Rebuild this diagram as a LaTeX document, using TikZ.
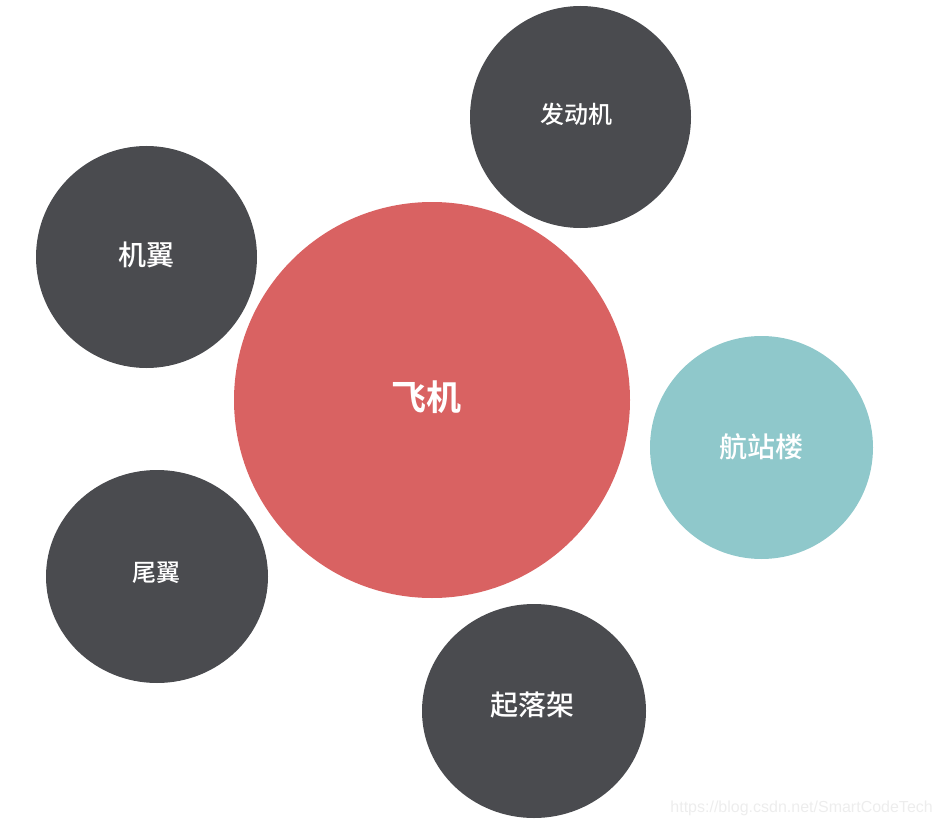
\documentclass[tikz,border=0pt]{standalone}
\usepackage{fontspec}
\usetikzlibrary{shapes.geometric}
\newfontfamily\cjkm{Noto Sans CJK SC Medium}
\newfontfamily\cjkb{Noto Sans CJK SC Bold}
\setmainfont{Liberation Sans}
\definecolor{hubred}{HTML}{D96262}
\definecolor{darkgray}{HTML}{4A4B4F}
\definecolor{teal2}{HTML}{8FC8CB}
\definecolor{wm}{HTML}{EDEDED}
\tikzset{
  bubble/.style={ellipse, inner sep=0pt},
  darkbubble/.style={bubble, fill=darkgray},
  bubbletext/.style={text=white, inner sep=0pt},
}
\begin{document}
\begin{tikzpicture}[x=1pt,y=-1pt]
\useasboundingbox (0,0) rectangle (940,824);
\node[bubble, fill=hubred, minimum width=396pt, minimum height=396pt] (hub) at (432,400) {};
\node[darkbubble, minimum width=221pt, minimum height=222pt] (engine) at (580.5,117) {};
\node[darkbubble, minimum width=221pt, minimum height=222pt] (wing) at (146.5,257) {};
\node[bubble, fill=teal2, minimum width=223pt, minimum height=223pt] (terminal) at (761.5,447.5) {};
\node[darkbubble, minimum width=222pt, minimum height=213pt] (tail) at (157,576.5) {};
\node[darkbubble, minimum width=224pt, minimum height=214pt] (gear) at (534,711) {};
\node[bubbletext, font=\cjkb\fontsize{35}{40}\selectfont] (hubtxt) at ([shift={(-6,-3)}]hub.center) {飞机};
\node[bubbletext, font=\cjkm\fontsize{24}{28}\selectfont] (enginetxt) at ([shift={(-4,-3)}]engine.center) {发动机};
\node[bubbletext, font=\cjkm\fontsize{28}{32}\selectfont] (wingtxt) at ([shift={(0,-2)}]wing.center) {机翼};
\node[bubbletext, font=\cjkm\fontsize{28}{32}\selectfont] (terminaltxt) at ([shift={(0,-1)}]terminal.center) {航站楼};
\node[bubbletext, font=\cjkm\fontsize{24}{28}\selectfont] (tailtxt) at ([shift={(-1,-3.5)}]tail.center) {尾翼};
\node[bubbletext, font=\cjkm\fontsize{28}{32}\selectfont] (geartxt) at ([shift={(-2,-6)}]gear.center) {起落架};
\node[text=wm, font=\fontsize{16}{18}\selectfont, anchor=base east, inner sep=0pt] (mark) at (933,812) {https://blog.csdn.net/SmartCodeTech};
\end{tikzpicture}
\end{document}
